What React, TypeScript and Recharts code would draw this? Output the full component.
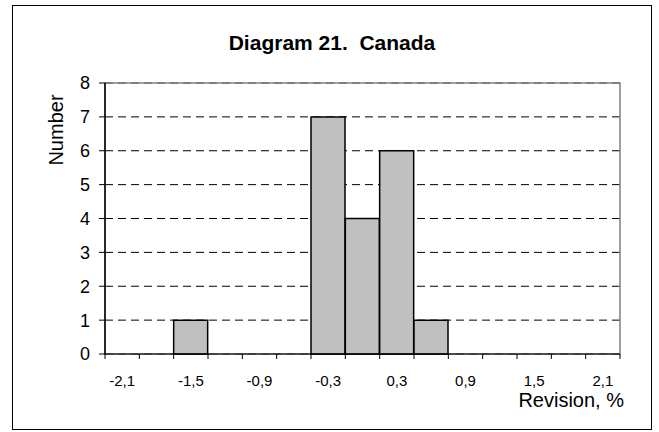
import React from 'react'
import {
  BarChart,
  Bar,
  XAxis,
  YAxis,
  CartesianGrid,
  ReferenceArea,
} from 'recharts';

// bin centres of the revision histogram (step 0,3)
const binCenters = [-2.1, -1.8, -1.5, -1.2, -0.9, -0.6, -0.3, 0, 0.3, 0.6, 0.9, 1.2, 1.5, 1.8, 2.1];
const counts = [0, 0, 1, 0, 0, 0, 7, 4, 6, 1, 0, 0, 0, 0, 0];
const yTicks = [0, 1, 2, 3, 4, 5, 6, 7, 8];

const data = binCenters.map((c, i) => ({ bin: c, count: counts[i] }));

const FONT = '"Liberation Sans", Arial, sans-serif';
const W = 659;
const H = 432;
const MARGIN = { top: 83, right: 39, bottom: 48, left: 65 };
const Y_W = 40;
const X_H = 30;
const PLOT_W = W - MARGIN.left - Y_W - MARGIN.right;
const BAND = PLOT_W / binCenters.length;

const fmt = (v: number) => v.toFixed(1).replace('.', ',');

const XTick = (props: any) => {
  const { x, y, payload, index } = props;
  const half = BAND / 2;
  return (
    <g>
      <line x1={x - half} x2={x - half} y1={y} y2={y + 5} stroke="#000" />
      {index === binCenters.length - 1 && (
        <line x1={x + half} x2={x + half} y1={y} y2={y + 5} stroke="#000" />
      )}
      {index % 2 === 0 && (
        <text x={x} y={y + 32} textAnchor="middle" fontSize={15} fontFamily={FONT} fill="#000">
          {fmt(payload.value)}
        </text>
      )}
    </g>
  );
};

function App() {
  return (
    <div style={{ position: 'absolute', left: 0, top: 0, width: W, height: H, background: '#fff', fontFamily: FONT }}>
      <div style={{ position: 'absolute', left: 12, top: 5, width: 640, height: 425, border: '1px solid #000', boxSizing: 'border-box' }} />
      <div style={{ position: 'absolute', left: 12, width: 640, top: 31, textAlign: 'center', fontSize: 21, fontWeight: 'bold' }}>
        Diagram 21.&nbsp; Canada
      </div>
      <div style={{ position: 'absolute', left: 56, top: 130, transform: 'translate(-50%, -50%) rotate(-90deg)', fontSize: 20, whiteSpace: 'nowrap' }}>
        Number
      </div>
      <div style={{ position: 'absolute', right: W - 624, top: 389, fontSize: 20, whiteSpace: 'nowrap' }}>
        Revision, %
      </div>
      <BarChart
        width={W}
        height={H}
        data={data}
        margin={MARGIN}
        barCategoryGap={0}
        barGap={0}
        style={{ position: 'absolute', left: 0, top: 0 }}
      >
        <CartesianGrid vertical={false} stroke="#000" strokeDasharray="8 5" />
        {/* grey plot-area frame */}
        <ReferenceArea y1={0} y2={8} fill="none" fillOpacity={0} stroke="#808080" strokeWidth={1.5} ifOverflow="visible" />
        <XAxis
          dataKey="bin"
          type="category"
          interval={0}
          tickLine={false}
          tickSize={0}
          tickMargin={0}
          height={X_H}
          axisLine={{ stroke: '#000' }}
          tick={<XTick />}
        />
        <YAxis
          domain={[0, 8]}
          ticks={yTicks}
          width={Y_W}
          tickSize={6}
          tickMargin={9}
          axisLine={{ stroke: '#000', strokeWidth: 1.5 }}
          tickLine={{ stroke: '#000' }}
          tick={{ fill: '#000', fontSize: 18, fontFamily: FONT }}
        />
        <Bar dataKey="count" fill="#c0c0c0" stroke="#000" strokeWidth={1.5} isAnimationActive={false} />
      </BarChart>
    </div>
  );
}

export default App
